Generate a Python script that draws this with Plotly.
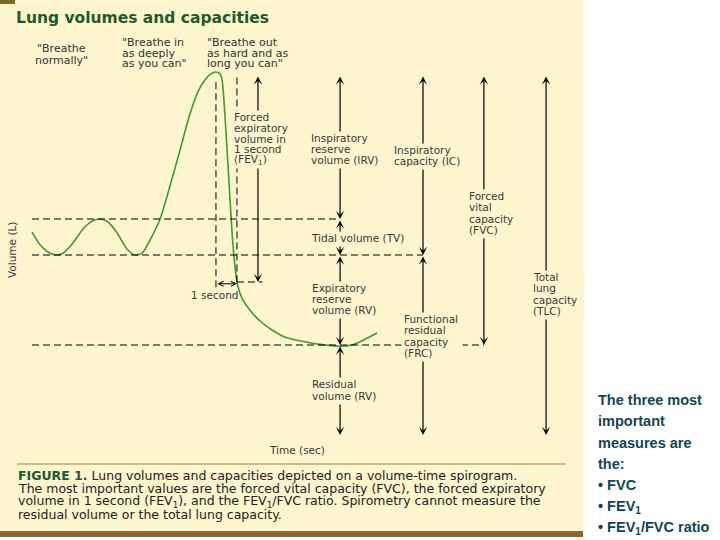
import plotly.graph_objects as go

# ---------------- data (seconds, litres) ----------------
TIME_S = [0.00, 0.38, 0.76, 1.10, 1.48, 1.90, 2.52, 2.90, 3.24, 3.62, 4.05, 4.52,
          4.90, 5.24, 5.62, 6.10, 6.57, 7.05, 7.52, 7.90, 8.24, 8.52, 8.76, 8.95,
          9.05, 9.14, 9.29, 9.43, 9.57, 9.76, 10.00, 10.38, 10.86, 11.43, 12.05,
          12.76, 13.71, 14.67, 15.24, 15.71, 16.43]
VOLUME_L = [3.38, 3.17, 3.05, 3.00, 3.03, 3.18, 3.47, 3.57, 3.60, 3.55, 3.37, 3.10,
            3.00, 3.03, 3.25, 3.60, 4.15, 4.75, 5.35, 5.72, 5.92, 6.02, 6.05, 6.02,
            5.92, 5.58, 4.75, 3.92, 3.17, 2.55, 2.28, 2.08, 1.90, 1.75, 1.63,
            1.57, 1.51, 1.48, 1.50, 1.57, 1.70]

TLC_L = 6.0          # total lung capacity level
END_INSP_L = 3.6     # end of normal inspiration
FRC_L = 3.0          # end of normal expiration
FEV1_LEVEL_L = 2.55  # volume remaining after 1 s of forced expiration
RV_L = 1.5           # residual volume
T_PEAK_S = 8.76      # start of forced expiration
T_1S_S = 9.76        # one second later

MEASURE_NAMES = ["FEV1", "IRV", "TV", "ERV", "RV", "IC", "FRC", "FVC", "TLC"]
MEASURE_LOW = [FEV1_LEVEL_L, END_INSP_L, FRC_L, RV_L, 0.0, FRC_L, 0.0, RV_L, 0.0]
MEASURE_HIGH = [TLC_L, TLC_L, END_INSP_L, FRC_L, RV_L, TLC_L, FRC_L, TLC_L, TLC_L]

# ---------------- layout helpers ----------------
W, H = 720, 540
BEIGE = "#fdf5cd"
BROWN = "#8d6433"
GREEN_T = "#1d5a2c"
LABEL_C = "#3a3a3a"
FONT = "DejaVu Sans"

# horizontal placement (seconds) of each measurement column
COL_X = {"FEV1": 10.76, "IRV": 14.67, "TV": 14.67, "ERV": 14.67, "RV": 14.67,
         "IC": 18.62, "FRC": 18.62, "FVC": 21.52, "TLC": 24.48}

fig = go.Figure()
fig.add_trace(go.Scatter(x=TIME_S, y=VOLUME_L, mode="lines",
                         line=dict(color="#3f9a2f", width=1.6, shape="spline", smoothing=0.7),
                         hoverinfo="skip", showlegend=False))

shapes = []
def px(x): return x / W
def py(y): return 1 - y / H

# background panel, bars
shapes.append(dict(type="rect", xref="paper", yref="paper", x0=0, x1=px(583), y0=py(537), y1=1,
                   fillcolor=BEIGE, line=dict(width=0), layer="below"))
shapes.append(dict(type="rect", xref="paper", yref="paper", x0=0, x1=px(583), y0=py(537), y1=py(531),
                   fillcolor=BROWN, line=dict(width=0), layer="below"))
shapes.append(dict(type="rect", xref="paper", yref="paper", x0=0, x1=px(15), y0=py(4), y1=1,
                   fillcolor="#7a6a2a", line=dict(width=0), layer="below"))
shapes.append(dict(type="line", xref="paper", yref="paper", x0=px(17), x1=px(566), y0=py(464), y1=py(464),
                   line=dict(color="#a07f45", width=1.2), layer="below"))

DASH = dict(color="black", width=1, dash="7px,4px")
def hdash(y, x0, x1):
    shapes.append(dict(type="line", xref="x", yref="y", x0=x0, x1=x1, y0=y, y1=y, line=DASH))
def vdash(x, y0, y1):
    shapes.append(dict(type="line", xref="x", yref="y", x0=x, x1=x, y0=y0, y1=y1, line=DASH))

hdash(END_INSP_L, TIME_S[0], COL_X["TV"])
hdash(FRC_L, TIME_S[0], COL_X["IC"])
hdash(RV_L, TIME_S[0], COL_X["FVC"])
hdash(FEV1_LEVEL_L, T_1S_S, COL_X["FEV1"] + 0.22)
vdash(T_PEAK_S, 5.88, FEV1_LEVEL_L - 0.1)
vdash(T_1S_S, 5.96, FEV1_LEVEL_L)

arrow_anns, bg_anns, text_anns = [], [], []
# measurement arrows
for name, lo, hi in zip(MEASURE_NAMES, MEASURE_LOW, MEASURE_HIGH):
    x = COL_X[name]
    arrow_anns.append(dict(x=x, y=lo, ax=x, ay=hi, xref="x", yref="y", axref="x", ayref="y",
                           text="", showarrow=True, arrowhead=3, arrowside="end+start",
                           arrowsize=1.15, arrowwidth=1.2, arrowcolor="black",
                           standoff=0, startstandoff=0))
# 1-second bracket
arrow_anns.append(dict(x=T_1S_S, y=FEV1_LEVEL_L - 0.03, ax=T_PEAK_S, ay=FEV1_LEVEL_L - 0.03,
                       xref="x", yref="y", axref="x", ayref="y", text="", showarrow=True,
                       arrowhead=5, arrowside="end+start", arrowsize=1.0, arrowwidth=1.0,
                       arrowcolor="black", standoff=0, startstandoff=0))

def box(x0, y0, x1, y1):
    """beige knock-out box behind a label (pixel coordinates)"""
    bg_anns.append(dict(x=px(x0), y=py(y0), xref="paper", yref="paper", text="\u00a0",
                        showarrow=False, xanchor="left", yanchor="top", borderpad=0,
                        width=x1 - x0, height=y1 - y0, bgcolor=BEIGE,
                        font=dict(size=1, color=BEIGE)))

def text_lines(lines, x, y0, dy, size=10.5, color=LABEL_C, anchor="left", bold=False,
               family=FONT):
    for i, s in enumerate(lines):
        t = ("<b>%s</b>" % s) if bold else s
        text_anns.append(dict(x=px(x), y=py(y0 + i * dy), xref="paper", yref="paper", text=t,
                              showarrow=False, xanchor=anchor, yanchor="middle", borderpad=0,
                              font=dict(family=family, size=size, color=color)))

# title
text_lines(["Lung volumes and capacities"], 15, 18, 0, size=15.5, color=GREEN_T, bold=True)
# instructions
text_lines(['"Breathe', 'normally"'], 61, 48, 12, size=11, color="#333333", anchor="center")
text_lines(['"Breathe in', 'as deeply', 'as you can"'], 121, 43, 10.5, size=11, color="#333333")
text_lines(['"Breathe out', 'as hard and as', 'long you can"'], 206, 43, 10.5, size=11, color="#333333")
# labels (with knock-out boxes)
box(231, 110, 291, 167)
text_lines(["Forced", "expiratory", "volume in", "1 second", "(FEV<sub>1</sub>)"], 233, 117, 10.8)
box(308, 131, 381, 167)
text_lines(["Inspiratory", "reserve", "volume (IRV)"], 310, 138, 11)
box(391, 143, 464, 168)
text_lines(["Inspiratory", "capacity (IC)"], 393, 150, 11)
box(308, 231, 407, 245)
text_lines(["Tidal volume (TV)"], 310, 238, 0)
box(309, 281, 381, 317)
text_lines(["Expiratory", "reserve", "volume (RV)"], 311, 288, 11)
box(401, 312, 461, 360)
text_lines(["Functional", "residual", "capacity", "(FRC)"], 403, 319, 11.3)
box(466, 189, 524, 237)
text_lines(["Forced", "vital", "capacity", "(FVC)"], 468, 196, 11.3)
box(530, 270, 583, 318)
text_lines(["Total", "lung", "capacity", "(TLC)"], 532, 277, 11.3)
box(309, 377, 379, 403)
text_lines(["Residual", "volume (RV)"], 311, 384, 12)
text_lines(["1 second"], 214, 295, 0, anchor="center")
text_lines(["Time (sec)"], 297, 450, 0, anchor="center")
text_anns.append(dict(x=px(12), y=py(250), xref="paper", yref="paper", text="Volume (L)",
                      showarrow=False, textangle=-90, xanchor="center", yanchor="middle",
                      font=dict(family=FONT, size=10.5, color=LABEL_C)))
# caption
cap = ['<span style="color:%s"><b>FIGURE 1.</b></span> Lung volumes and capacities depicted on a volume-time spirogram.' % GREEN_T,
       "The most important values are the forced vital capacity (FVC), the forced expiratory",
       "volume in 1 second (FEV<sub>1</sub>), and the FEV<sub>1</sub>/FVC ratio. Spirometry cannot measure the",
       "residual volume or the total lung capacity."]
text_lines(cap, 17, 475, 13.2, size=12.5, color="#222222")
# side note
side = ["The three most", "important", "measures are", "the:", "• FVC", "• FEV<sub>1</sub>",
        "• FEV<sub>1</sub>/FVC ratio"]
text_lines(side, 597, 400, 21.3, size=14.5, color="#0f4556", bold=True, family="Liberation Sans")

fig.update_layout(
    width=W, height=H, margin=dict(l=0, r=0, t=0, b=0),
    paper_bgcolor="white", plot_bgcolor="rgba(0,0,0,0)",
    xaxis=dict(range=[-32 / 21, 688 / 21], visible=False, fixedrange=True),
    yaxis=dict(range=[-1.75, 7.25], visible=False, fixedrange=True),
    shapes=shapes, annotations=arrow_anns + bg_anns + text_anns, showlegend=False,
)
fig.write_html("out.html", config={"displayModeBar": False},
               post_script="document.body.style.margin='0';document.body.style.overflow='hidden';")
